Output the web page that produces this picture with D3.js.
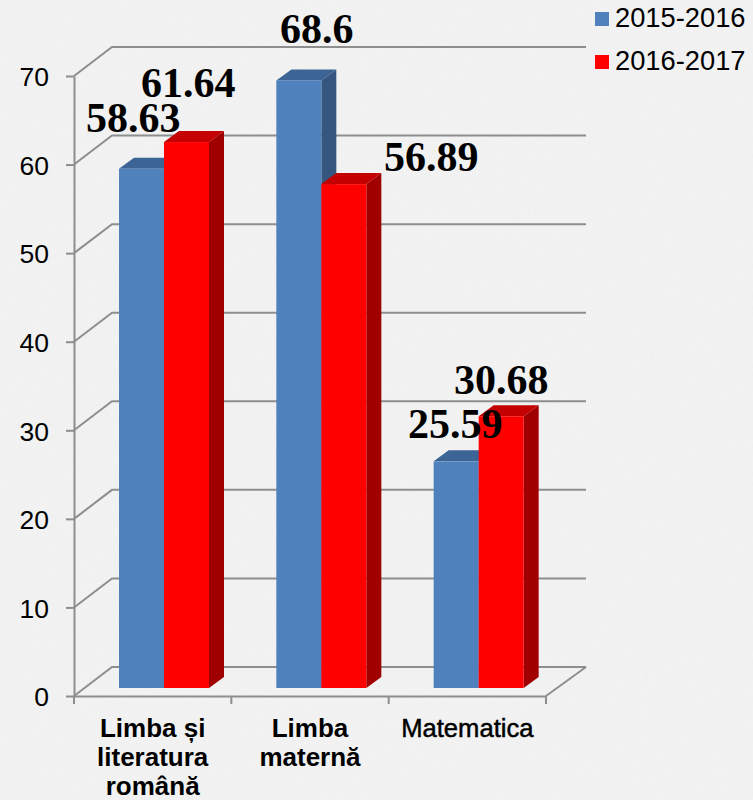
<!DOCTYPE html>
<html><head><meta charset="utf-8">
<script src="https://cdn.jsdelivr.net/npm/d3@7"></script>
<style>html,body{margin:0;padding:0;background:#f2f2f2;overflow:hidden}svg{display:block}</style>
</head><body><svg id="c" width="753" height="800"></svg>
<script>
const categories = [["Limba și","literatura","română"],["Limba","maternă"],["Matematica"]];
const categoryKeys = ["Limba și literatura română","Limba maternă","Matematica"];
const seriesNames = ["2015-2016","2016-2017"];
const values2015 = [58.63,68.6,25.59];
const values2016 = [61.64,56.89,30.68];
const yTicks = [0,10,20,30,40,50,60,70];
const barColors = [{front:"#4f81bd",side:"#35567f",top:"#3c6494"},{front:"#ff0000",side:"#a00000",top:"#c40000"}];
// label top-left anchors [x, baseline]
const labelPos = [[[86,132],[280,43],[408,438]],[[141,97],[384,171],[454,394]]];

const svg = d3.select("#c");
const defs = svg.append("defs");
const f = defs.append("filter").attr("id","paper").attr("x",0).attr("y",0).attr("width","100%").attr("height","100%");
f.append("feTurbulence").attr("type","fractalNoise").attr("baseFrequency",0.35).attr("numOctaves",2).attr("seed",4);
f.append("feColorMatrix").attr("values","0 0 0 0 0.55  0 0 0 0 0.55  0 0 0 0 0.55  0.5 0 0 0 -0.2");
svg.append("rect").attr("width",753).attr("height",800).attr("fill","#f2f2f2");
svg.append("rect").attr("width",753).attr("height",800).attr("filter","url(#paper)").attr("opacity",0.22);

const axisColor = "#8e8e8e";
const x0 = 74, x1 = 546, depthX = 38, depthY = 29;
const y = d3.scaleLinear().domain([0,70]).range([696,76]);
const yBar = d3.scaleLinear().domain([0,70]).range([688,68]);
const x = d3.scaleBand().domain(categoryKeys).range([x0,x1]);
const xInner = d3.scaleBand().domain(seriesNames).range([45,135]);
const barDX = 15, barDY = 11;

// walls: gridlines and floor
const grid = svg.append("g").attr("fill","none").attr("stroke",axisColor).attr("stroke-width",2);
grid.selectAll("path").data(yTicks).join("path")
  .attr("d",d=>`M${x0},${y(d)}L${x0+depthX},${y(d)-depthY}L${x1+depthX+2},${y(d)-depthY}`);
grid.append("path").attr("d",`M${x1},${y(0)}L${x1+depthX+2},${y(0)-depthY}`);

// y axis
const ya = svg.append("g").attr("transform",`translate(${x0},0)`)
  .call(d3.axisLeft(y).tickValues(yTicks).tickSize(8).tickPadding(17).tickSizeOuter(0));
ya.select(".domain").attr("stroke",axisColor).attr("stroke-width",2);
ya.selectAll("line").attr("stroke",axisColor).attr("stroke-width",2);
ya.selectAll("text").attr("font-family","'Liberation Sans',Arial,sans-serif").attr("font-size",26.5).attr("fill","#000").attr("dy","0.37em");

// x axis
const xa = svg.append("g").attr("transform",`translate(0,${y(0)})`)
  .call(d3.axisBottom(x).tickValues([]).tickSize(0));
xa.select(".domain").attr("stroke",axisColor).attr("stroke-width",2);
xa.selectAll("line.sep").data([...categoryKeys.map(c=>x(c)),x1]).join("line").attr("class","sep")
  .attr("x1",d=>d).attr("x2",d=>d).attr("y1",0).attr("y2",8).attr("stroke",axisColor).attr("stroke-width",2);

// bars
const bars = svg.append("g");
categoryKeys.forEach((c,i)=>{
  [values2015,values2016].forEach((vals,s)=>{
    const l = x(c)+xInner(seriesNames[s]), r = l+xInner.bandwidth();
    const t = yBar(vals[i]), b = yBar(0), col = barColors[s];
    const g = bars.append("g");
    g.append("path").attr("fill",col.side).attr("d",`M${r},${t}L${r+barDX},${t-barDY}L${r+barDX},${b-barDY}L${r},${b}Z`);
    g.append("path").attr("fill",col.top).attr("d",`M${l},${t}L${r},${t}L${r+barDX},${t-barDY}L${l+barDX},${t-barDY}Z`);
    g.append("rect").attr("x",l).attr("y",t).attr("width",r-l).attr("height",b-t).attr("fill",col.front);
  });
});

// value labels
const vl = svg.append("g").attr("font-family","'Liberation Serif','Times New Roman',serif").attr("font-weight","bold").attr("font-size",42).attr("fill","#000");
[values2015,values2016].forEach((vals,s)=>vals.forEach((v,i)=>{
  vl.append("text").attr("x",labelPos[s][i][0]).attr("y",labelPos[s][i][1]).text(v);
}));

// category labels
const cl = svg.append("g").attr("font-family","'Liberation Sans',Arial,sans-serif").attr("text-anchor","middle").attr("fill","#000");
categories.forEach((lines,i)=>{
  const cx = x(categoryKeys[i])+x.bandwidth()/2;
  const t = cl.append("text").attr("font-size",lines.length>1?26:25.6)
    .attr("font-weight",lines.length>1?"bold":"normal")
    .attr("stroke",lines.length>1?"none":"#000").attr("stroke-width",lines.length>1?0:0.5);
  lines.forEach((ln,j)=>t.append("tspan").attr("x",cx).attr("y",736.5+j*29).text(ln));
});

// legend
const lg = svg.append("g").selectAll("g").data(seriesNames).join("g").attr("transform",(d,i)=>`translate(595,${12+i*43})`);
lg.append("rect").attr("width",14).attr("height",14).attr("fill",(d,i)=>barColors[i].front);
lg.append("text").attr("x",20).attr("y",15).attr("font-family","'Liberation Sans',Arial,sans-serif").attr("font-size",27.3).attr("fill","#000").text(d=>d);
</script></body></html>
